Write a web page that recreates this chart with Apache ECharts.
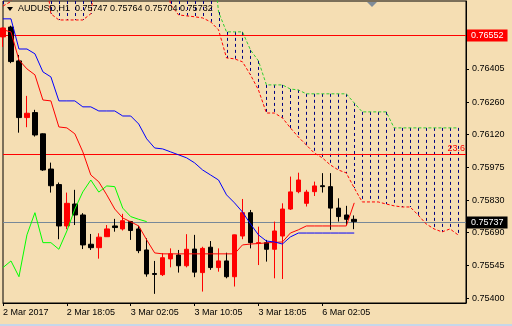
<!DOCTYPE html>
<html><head><meta charset="utf-8">
<script src="https://cdn.jsdelivr.net/npm/echarts@6/dist/echarts.min.js"></script>
<style>html,body{margin:0;padding:0;background:#f5deb3}#c{width:512px;height:326px}</style>
</head><body><div id="c"></div><script>
// ---- data ----
const tickLabels = ['2 Mar 2017','2 Mar 18:05','3 Mar 02:05','3 Mar 10:05','3 Mar 18:05','6 Mar 02:05'];
const yTicks = [0.75400,0.75545,0.75690,0.75830,0.75975,0.76120,0.76260,0.76405];
const opens  = [0.76545,0.76588,0.76440,0.76192,0.76214,0.76121,0.75967,0.75899,0.75718,0.75814,0.75766,0.75638,0.75623,0.75671,0.75718,0.75705,0.75737,0.75705,0.75613,0.75510,0.75505,0.75574,0.75591,0.75544,0.75617,0.75514,0.75625,0.75536,0.75565,0.75496,0.75674,0.75776,0.75642,0.75645,0.75616,0.75674,0.75792,0.75868,0.75817,0.75868,0.75894,0.75890,0.75796,0.75766,0.75747];
const highs  = [0.76588,0.76594,0.76466,0.76287,0.76226,0.76123,0.75995,0.75908,0.75864,0.75876,0.75774,0.75683,0.75686,0.75722,0.75749,0.75771,0.75740,0.75719,0.75664,0.75565,0.75599,0.75620,0.75613,0.75682,0.75679,0.75627,0.75652,0.75620,0.75601,0.75680,0.75836,0.75788,0.75715,0.75657,0.75737,0.75817,0.75934,0.75951,0.75876,0.75912,0.75949,0.75949,0.75839,0.75806,0.75764];
const lows   = [0.76501,0.76430,0.76126,0.76150,0.76109,0.75959,0.75864,0.75660,0.75704,0.75722,0.75617,0.75613,0.75575,0.75670,0.75693,0.75698,0.75657,0.75599,0.75496,0.75421,0.75499,0.75537,0.75514,0.75537,0.75494,0.75431,0.75526,0.75518,0.75489,0.75453,0.75660,0.75620,0.75547,0.75562,0.75489,0.75486,0.75788,0.75861,0.75803,0.75849,0.75864,0.75701,0.75737,0.75722,0.75704];
const closes = [0.76584,0.76437,0.76192,0.76211,0.76116,0.75963,0.75894,0.75718,0.75817,0.75766,0.75635,0.75623,0.75669,0.75705,0.75711,0.75741,0.75698,0.75610,0.75508,0.75506,0.75579,0.75596,0.75544,0.75616,0.75516,0.75620,0.75536,0.75565,0.75496,0.75679,0.75776,0.75645,0.75645,0.75616,0.75696,0.75792,0.75867,0.75919,0.75866,0.75893,0.75890,0.75796,0.75759,0.75747,0.75737];
const tenkan = [0.76576,0.76567,0.76444,0.76405,0.76379,0.76269,0.76265,0.76151,0.76147,0.76121,0.76042,0.75941,0.75911,0.75854,0.75792,0.75753,0.75736,0.75718,0.75657,0.75600,0.75596,0.75596,0.75596,0.75596,0.75596,0.75596,0.75596,0.75596,0.75596,0.75596,0.75635,0.75639,0.75641,0.75644,0.75646,0.75648,0.75687,0.75701,0.75718,0.75718,0.75718,0.75718,0.75718,0.75718,0.75819];
const kijun  = [0.76624,0.76624,0.76492,0.76492,0.76471,0.76392,0.76370,0.76265,0.76265,0.76265,0.76239,0.76239,0.76221,0.76221,0.76221,0.76199,0.76199,0.76164,0.76099,0.76059,0.76055,0.76042,0.76029,0.76016,0.75994,0.75963,0.75941,0.75919,0.75854,0.75819,0.75779,0.75727,0.75679,0.75652,0.75648,0.75639,0.75670,0.75687,0.75687,0.75687,0.75687,0.75687,0.75687,0.75687,0.75687];
const spanA  = [0.76680,0.76700,0.76900,0.76900,0.76900,0.76900,0.76646,0.76619,0.76619,0.76619,0.76619,0.76646,0.76900,0.76900,0.76900,0.76900,0.76900,0.76900,0.76900,0.76900,0.76900,0.76685,0.76641,0.76637,0.76633,0.76628,0.76611,0.76576,0.76453,0.76449,0.76436,0.76379,0.76313,0.76212,0.76212,0.76191,0.76147,0.76107,0.76072,0.76037,0.76016,0.75985,0.75963,0.75950,0.75884,0.75823,0.75823,0.75823,0.75814,0.75806,0.75801,0.75801,0.75766,0.75727,0.75705,0.75692,0.75705,0.75679];
const spanB  = [0.77000,0.77000,0.77000,0.77000,0.77000,0.77000,0.77000,0.77000,0.77000,0.77000,0.77000,0.77000,0.77000,0.77000,0.77000,0.77000,0.77000,0.77000,0.77000,0.77000,0.77000,0.77000,0.77000,0.77000,0.77000,0.77000,0.77000,0.76654,0.76567,0.76567,0.76567,0.76488,0.76440,0.76335,0.76335,0.76335,0.76317,0.76313,0.76296,0.76296,0.76296,0.76296,0.76296,0.76296,0.76256,0.76217,0.76217,0.76217,0.76217,0.76147,0.76147,0.76147,0.76147,0.76147,0.76147,0.76147,0.76147,0.76147];
const levelHigh = 0.76552, level236 = 0.76033, lastPrice = 0.75737;
const titleText = 'AUDUSD,H1  0.75747 0.75764 0.75704 0.75732';

// ---- build ----
const FONT = '"Liberation Sans", Arial, sans-serif';
const N = 59;
const cats = Array.from({length: N}, (_, i) => String(i));
const candles = opens.map((o, i) => [o, closes[i], lows[i], highs[i]]);
const chikou = cats.map((_, i) => (i + 26 < closes.length ? closes[i + 26] : null));
const hatch = spanA.map((a, i) => [i, a, spanB[i]]);
const showTick = (i) => i % 8 === 0 && i / 8 < tickLabels.length;

// horizontal level line drawn crisply through the value axis, with a label at the right
const levelSeries = (value, color, text, boxFill) => ({
  type: 'custom', z: 2, silent: true, data: [[0, value]],
  renderItem: (params, api) => {
    const cs = params.coordSys;
    const y = Math.round(api.coord([0, api.value(1)])[1]) + 0.5;
    const right = cs.x + cs.width;
    const label = boxFill
      ? {type: 'text', x: right + 1, y: y, style: {text: text, fill: '#fff', backgroundColor: boxFill, padding: [2, 4, 1, 4], font: '9px ' + FONT, align: 'left', verticalAlign: 'middle'}}
      : {type: 'text', x: right - 1, y: y - 1, style: {text: text, fill: color, font: '9px ' + FONT, align: 'right', verticalAlign: 'bottom'}};
    return {type: 'group', children: [
      {type: 'line', shape: {x1: cs.x, y1: y, x2: right, y2: y}, style: {stroke: color, lineWidth: 1}},
      label
    ]};
  }
});

const chart = echarts.init(document.getElementById('c'), null, {renderer: 'canvas'});
chart.setOption({
  backgroundColor: '#f5deb3',
  animation: false,
  grid: {left: 3, right: 46, top: 1, bottom: 23, show: true, borderColor: '#000', borderWidth: 1, backgroundColor: 'transparent'},
  xAxis: {
    type: 'category', data: cats, boundaryGap: false,
    axisLine: {show: true, lineStyle: {color: '#000'}},
    axisTick: {show: true, length: 3, interval: showTick, lineStyle: {color: '#000'}},
    axisLabel: {interval: showTick, formatter: (v) => tickLabels[+v / 8] || '', align: 'left', margin: 5, color: '#000', fontSize: 9, fontFamily: FONT},
    splitLine: {show: false}
  },
  yAxis: {
    type: 'value', position: 'right', min: 0.75381, max: 0.76702,
    axisLine: {show: true, lineStyle: {color: '#000'}},
    axisTick: {show: true, length: 3, customValues: yTicks, lineStyle: {color: '#000'}},
    axisLabel: {customValues: yTicks, formatter: (v) => v.toFixed(5), margin: 6, color: '#000', fontSize: 9, fontFamily: FONT},
    splitLine: {show: false}
  },
  graphic: [
    {type: 'polygon', shape: {points: [[7, 7], [13, 7], [10, 11]]}, style: {fill: '#000'}, z: 100},
    {type: 'text', left: 18, top: 4, style: {text: titleText, fontSize: 9, fontFamily: FONT, fill: '#000'}, z: 100},
    {type: 'polygon', shape: {points: [[367, 2], [377, 2], [372, 7]]}, style: {fill: '#7f8c99'}, z: 100},
    {type: 'rect', shape: {x: 0, y: 324, width: 512, height: 2}, style: {fill: '#c6d7e9'}, z: 100}
  ],
  series: [
    {
      type: 'custom', z: 1, silent: true, data: hatch,
      renderItem: (params, api) => {
        const i = api.value(0), a = api.value(1), b = api.value(2);
        const cs = params.coordSys;
        const p1 = api.coord([i, a]), p2 = api.coord([i, b]);
        const clamp = (y) => Math.max(cs.y, Math.min(cs.y + cs.height, y));
        const y1 = clamp(Math.min(p1[1], p2[1])), y2 = clamp(Math.max(p1[1], p2[1]));
        if (y2 - y1 < 1) return null;
        const x = Math.round(p1[0]) + 0.5;
        return {type: 'line', shape: {x1: x, y1: y1, x2: x, y2: y2}, style: {stroke: '#000080', lineWidth: 1, lineDash: [3, 3]}};
      }
    },
    {type: 'line', data: spanB, symbol: 'none', z: 2, silent: true, lineStyle: {color: '#32cd32', width: 1, type: [3, 2]}},
    {type: 'line', data: spanA, symbol: 'none', z: 2, silent: true, lineStyle: {color: '#ff0000', width: 1, type: [3, 2]}},
    levelSeries(levelHigh, '#ff0000', levelHigh.toFixed(5), '#ff0000'),
    levelSeries(level236, '#ff0000', '23.6', null),
    levelSeries(lastPrice, '#778899', lastPrice.toFixed(5), '#000000'),
    {
      type: 'candlestick', data: candles, barWidth: 5, z: 3,
      itemStyle: {color: '#ff0000', color0: '#000000', borderColor: '#ff0000', borderColor0: '#000000', borderWidth: 1}
    },
    {type: 'line', data: tenkan, symbol: 'none', z: 4, silent: true, lineStyle: {color: '#ff0000', width: 1}},
    {type: 'line', data: kijun, symbol: 'none', z: 4, silent: true, lineStyle: {color: '#0000ff', width: 1}},
    {type: 'line', data: chikou, symbol: 'none', z: 4, silent: true, lineStyle: {color: '#00ff00', width: 1}}
  ]
});
</script></body></html>
